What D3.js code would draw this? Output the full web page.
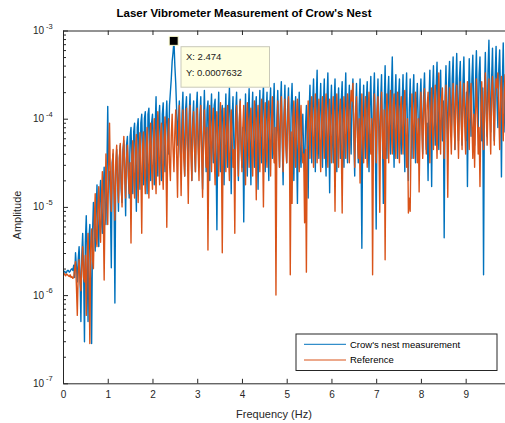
<!DOCTYPE html>
<html>
<head>
<meta charset="utf-8">
<script src="https://cdn.jsdelivr.net/npm/d3@7"></script>
<style>
  html, body { margin: 0; padding: 0; background: #fff; }
  svg { display: block; font-family: "Liberation Sans", Arial, sans-serif; }
</style>
</head>
<body>
<div id="chart"></div>
<script>
// FFT bin width of the spectrum (Hz)
const binWidth = 0.02;

const measLog10 = [
  -5.75,-5.74,-5.73,-5.75,-5.74,-5.72,-5.72,-5.74,-5.73,-5.71,-5.70,-5.72,-5.66,-5.80,-5.52,-5.68,-5.85,-5.60,-5.45,-5.75,-6.30,-5.55,-5.30,-5.70,-6.53,-5.40,-5.10,-5.60,-6.30,-5.35,-5.20,-5.80,-6.55,-5.30,-4.95,-5.25,-5.50,-5.05,-4.75,-5.30,-5.45,-4.90,-4.70,-5.15,-5.30,-4.80,-4.55,-5.00,-5.20,-4.65,
  -3.86,-4.70,-4.60,-5.00,-5.69,-4.50,-4.40,-4.85,-6.09,-4.60,-4.35,-4.70,-5.05,-4.45,-4.30,-4.80,-4.95,-4.35,-4.25,-4.60,-5.10,-4.30,-4.20,-4.65,-4.90,-4.20,-4.10,-4.50,-4.85,-4.15,-4.05,-4.55,-5.05,-4.10,-4.00,-4.45,-4.80,-4.05,-3.95,-4.40,-4.75,-4.00,-3.92,-4.50,-4.85,-3.95,-3.88,-4.35,-4.70,-4.05,
  -3.95,-4.30,-4.75,-4.10,-3.75,-4.40,-4.65,-4.00,-3.85,-4.45,-4.70,-3.95,-3.82,-4.35,-4.60,-4.05,-3.80,-4.20,-4.40,-3.85,-3.70,-3.55,-3.35,-3.25,-3.117,-3.40,-3.60,-3.90,-4.30,-4.00,-3.80,-4.35,-4.55,-3.95,-3.70,-4.25,-4.65,-3.90,-3.75,-4.30,-4.50,-3.95,-3.72,-4.20,-4.70,-4.00,-3.80,-4.35,-4.60,-3.90,
  -3.70,-4.20,-4.55,-3.95,-3.75,-4.30,-4.80,-4.05,-3.68,-4.15,-4.60,-3.90,-3.80,-4.35,-4.70,-4.00,-3.72,-4.25,-4.50,-3.85,-3.78,-4.40,-5.26,-4.10,-3.70,-4.30,-4.60,-3.95,-3.85,-4.20,-4.75,-4.05,-3.72,-4.35,-4.55,-3.90,-3.65,-4.15,-4.85,-4.00,-3.75,-4.30,-4.60,-3.92,-3.70,-4.25,-4.70,-4.05,-3.78,-4.35,
  -4.55,-4.10,-5.17,-4.20,-3.72,-4.30,-4.65,-3.95,-3.66,-4.25,-4.75,-4.00,-3.70,-4.35,-4.55,-3.90,-3.75,-4.20,-4.80,-4.05,-3.68,-4.30,-4.50,-3.85,-3.62,-4.15,-4.60,-3.95,-3.70,-4.25,-4.70,-3.88,-3.65,-4.20,-4.45,-3.92,-3.60,-4.30,-4.65,-4.00,-3.68,-4.10,-4.55,-3.85,-3.58,-4.25,-4.75,-3.95,-3.62,-4.20,
  -4.50,-3.90,-3.65,-4.25,-4.60,-3.85,-3.60,-4.15,-4.70,-4.00,-3.75,-4.30,-4.96,-4.05,-3.70,-4.35,-4.55,-4.15,-3.95,-4.40,-4.60,-4.10,-3.85,-4.30,-4.90,-3.95,-3.62,-4.20,-4.50,-3.85,-3.55,-4.10,-4.60,-3.80,-3.45,-4.20,-4.45,-3.90,-3.60,-4.15,-4.55,-3.85,-3.55,-4.25,-4.65,-3.80,-3.48,-4.10,-4.84,-3.95,
  -3.62,-4.15,-4.50,-3.85,-3.55,-4.20,-4.60,-3.90,-3.65,-4.10,-4.45,-3.80,-3.58,-4.25,-4.55,-3.85,-3.48,-4.15,-4.50,-3.90,-3.62,-4.05,-4.40,-3.80,-3.55,-4.20,-4.65,-3.95,-3.60,-4.10,-4.50,-3.85,-3.55,-4.30,-5.47,-4.00,-3.62,-4.15,-4.45,-3.80,-3.58,-4.20,-4.60,-3.85,-3.52,-4.05,-4.50,-3.80,-3.48,-4.15,
  -5.25,-3.90,-3.55,-4.10,-4.45,-3.80,-3.50,-4.20,-4.96,-3.85,-3.40,-4.05,-4.45,-3.75,-3.52,-4.15,-4.40,-3.70,-3.30,-4.00,-4.55,-3.80,-3.50,-4.10,-4.45,-3.75,-3.55,-4.20,-4.40,-3.85,-3.50,-4.05,-4.60,-3.80,-3.48,-4.15,-4.70,-3.90,-3.55,-4.00,-4.45,-3.75,-3.50,-4.10,-4.50,-3.85,-3.60,-4.05,-4.40,-3.80,
  -3.55,-4.00,-4.40,-3.75,-3.48,-3.95,-4.35,-4.05,-4.70,-3.80,-3.45,-4.00,-4.77,-3.70,-3.40,-3.95,-4.30,-3.65,-3.36,-3.90,-4.35,-3.70,-3.45,-4.00,-4.25,-3.80,-5.35,-3.75,-3.40,-3.95,-4.30,-3.60,-3.35,-3.85,-4.20,-3.55,-3.30,-3.90,-4.35,-3.65,-3.26,-3.80,-4.25,-3.55,-3.35,-3.95,-4.30,-3.60,-3.30,-3.85,
  -4.25,-3.70,-4.77,-3.85,-3.32,-3.75,-4.20,-3.55,-3.28,-3.90,-4.30,-3.60,-3.23,-3.80,-4.15,-3.50,-3.30,-3.85,-4.25,-3.65,-5.77,-3.70,-3.25,-3.90,-4.20,-3.45,-3.11,-3.75,-4.15,-3.55,-3.20,-3.85,-4.25,-3.50,-3.18,-3.80,-4.10,-3.45,-3.22,-3.75,-4.66,-3.60,-3.14,-3.85,-4.15,-3.50,-3.20,-3.80,-4.10,-3.55,
  -3.25
];

// log10 amplitude per bin - reference (one row = 1 Hz)
const refLog10 = [
  -5.76,-5.75,-5.77,-5.78,-5.76,-5.77,-5.78,-5.79,-5.77,-5.80,-5.79,-5.81,-5.80,-5.70,-5.62,-5.90,-6.23,-5.75,-5.60,-5.85,-5.95,-5.65,-5.45,-5.80,-5.85,-5.55,-6.23,-5.60,-5.30,-5.75,-6.55,-5.45,-5.25,-5.60,-5.70,-5.15,-4.85,-5.35,-5.45,-5.00,-4.77,-5.20,-5.40,-4.90,-4.60,-5.10,-5.83,-4.95,-4.40,-4.85,
  -5.20,-4.60,-4.05,-4.70,-5.05,-4.55,-4.35,-4.80,-5.15,-4.50,-4.30,-4.75,-4.95,-4.45,-4.28,-4.70,-5.00,-4.40,-4.20,-4.65,-4.90,-4.45,-4.30,-4.60,-4.85,-4.50,-5.41,-4.40,-4.25,-4.65,-4.90,-4.35,-4.18,-4.60,-4.95,-4.40,-4.16,-4.55,-5.30,-4.30,-4.15,-4.60,-4.85,-4.35,-4.10,-4.50,-4.90,-4.30,-4.05,-4.55,
  -4.80,-4.30,-4.00,-4.50,-4.85,-4.25,-3.92,-4.45,-4.75,-4.20,-4.05,-4.55,-4.80,-4.25,-3.98,-4.40,-5.23,-4.30,-4.00,-4.50,-4.70,-4.20,-3.95,-4.35,-4.60,-4.15,-3.90,-4.40,-4.89,-4.20,-3.85,-4.30,-4.87,-4.25,-3.90,-4.45,-4.65,-4.15,-3.88,-4.35,-4.96,-4.20,-3.85,-4.40,-4.70,-4.10,-3.92,-4.30,-4.60,-4.15,
  -3.88,-4.35,-4.70,-4.15,-3.85,-4.40,-4.89,-4.20,-3.90,-4.30,-4.55,-4.10,-5.49,-4.35,-3.85,-4.25,-4.60,-4.05,-3.88,-4.40,-4.75,-4.15,-3.92,-4.30,-4.65,-4.10,-3.82,-4.35,-5.52,-4.20,-3.88,-4.30,-4.60,-4.10,-3.85,-4.40,-4.70,-4.15,-3.90,-4.25,-4.55,-4.35,-5.30,-4.10,-3.85,-4.30,-4.65,-4.05,-3.80,-4.25,
  -4.60,-4.10,-3.85,-4.30,-4.75,-4.05,-3.82,-4.25,-4.55,-4.00,-3.88,-4.35,-4.65,-4.10,-3.80,-4.20,-4.92,-4.05,-3.85,-4.30,-4.60,-4.00,-3.78,-4.25,-5.00,-4.10,-3.82,-4.35,-4.55,-4.00,-3.80,-4.20,-4.65,-4.05,-3.75,-4.30,-4.50,-4.10,-6.00,-4.20,-3.80,-4.25,-4.55,-4.00,-3.75,-4.15,-4.60,-4.05,-3.78,-4.30,
  -4.50,-4.05,-3.75,-4.20,-5.77,-4.15,-4.96,-4.00,-3.80,-4.25,-4.55,-3.95,-3.78,-4.20,-4.60,-4.05,-3.85,-4.30,-4.50,-4.40,-5.18,-4.35,-5.74,-4.20,-3.80,-4.10,-4.45,-3.95,-3.75,-4.20,-4.55,-4.00,-3.72,-4.15,-4.50,-3.95,-3.78,-4.25,-4.60,-4.00,-3.75,-4.20,-4.45,-3.90,-3.72,-4.15,-4.55,-4.00,-3.78,-4.20,
  -4.50,-4.00,-3.75,-4.20,-5.05,-4.10,-3.72,-4.25,-4.55,-3.95,-3.78,-4.30,-5.07,-4.05,-3.75,-4.20,-4.45,-3.95,-3.72,-4.15,-4.50,-3.90,-3.68,-3.80,-3.60,-4.10,-4.55,-3.95,-3.75,-4.20,-4.45,-4.00,-4.73,-4.10,-3.72,-4.25,-4.50,-3.95,-3.75,-4.15,-4.55,-3.90,-3.70,-4.20,-4.40,-4.00,-5.77,-4.15,-3.72,-4.05,
  -4.50,-3.95,-3.75,-4.15,-5.06,-4.00,-3.70,-4.20,-4.45,-3.90,-5.60,-4.10,-3.72,-4.05,-4.50,-3.90,-3.68,-4.15,-4.40,-3.85,-3.72,-4.10,-4.45,-3.95,-3.70,-4.20,-4.50,-3.90,-3.75,-4.10,-4.40,-3.85,-3.68,-4.15,-4.55,-4.00,-5.07,-4.90,-5.05,-4.20,-3.72,-4.05,-4.45,-3.90,-3.70,-4.15,-4.50,-4.00,-4.83,-4.10,
  -3.70,-4.05,-4.45,-3.90,-3.66,-4.10,-4.40,-3.85,-3.70,-4.00,-4.50,-3.95,-3.65,-4.15,-4.35,-3.85,-3.62,-4.05,-4.45,-3.90,-3.48,-4.00,-4.40,-3.80,-3.65,-4.10,-4.45,-3.90,-3.62,-4.05,-4.89,-4.00,-3.65,-4.10,-4.40,-3.85,-3.60,-4.00,-4.35,-3.80,-3.62,-4.05,-4.45,-3.90,-3.58,-4.00,-4.35,-3.85,-3.60,-4.05,
  -4.40,-3.85,-3.58,-4.00,-4.35,-3.80,-3.60,-4.05,-4.45,-3.95,-4.55,-4.00,-3.55,-3.90,-4.40,-4.10,-4.77,-3.95,-3.58,-4.00,-4.35,-3.75,-3.48,-3.95,-4.30,-3.80,-3.55,-4.00,-4.40,-3.70,-3.52,-3.90,-4.30,-3.75,-3.55,-3.65,-3.48,-3.90,-4.35,-3.70,-3.52,-3.95,-4.25,-3.75,-3.50,-3.90,-4.30,-3.70,-3.52,-3.85,
  -4.20
];

const xTickValues = [0, 1, 2, 3, 4, 5, 6, 7, 8, 9, 10];
const yDecades = [-7, -6, -5, -4, -3];
const seriesNames = ["Crow's nest measurement", "Reference"];
const seriesColors = ["#0072BD", "#D95319"];
const datatip = { x: 2.474, y: 0.0007632 };

const W = 505, H = 423;
const plotL = 63, plotR = 510.4, plotT = 30.5, plotB = 383.3;
const axisColor = "#262626";

const svg = d3.select("#chart").append("svg")
  .attr("width", W).attr("height", H);

const x = d3.scaleLinear().domain([0, 10]).range([plotL, plotR]);
const y = d3.scaleLog().domain([1e-7, 1e-3]).range([plotB, plotT]);

svg.append("clipPath").attr("id", "plotclip")
  .append("rect")
  .attr("x", plotL).attr("y", plotT)
  .attr("width", plotR - plotL).attr("height", plotB - plotT);

const toPoints = arr => arr.map((v, i) => ({ f: i * binWidth, a: Math.pow(10, v) }));
const series = [toPoints(measLog10), toPoints(refLog10)];

const line = d3.line().x(d => x(d.f)).y(d => y(d.a));

const plot = svg.append("g").attr("clip-path", "url(#plotclip)");
series.forEach((s, k) => {
  plot.append("path")
    .datum(s)
    .attr("fill", "none")
    .attr("stroke", seriesColors[k])
    .attr("stroke-width", 1.4)
    .attr("stroke-linejoin", "round")
    .attr("d", line);
});

// axes
const bottomAxis = svg.append("g")
  .attr("transform", `translate(0,${plotB})`)
  .call(d3.axisBottom(x).tickValues(xTickValues).tickSize(-4.5).tickSizeOuter(0).tickPadding(8));
bottomAxis.selectAll("text").attr("font-size", 10).attr("fill", axisColor)
  .attr("font-family", "Liberation Sans, Arial, sans-serif");

svg.append("g")
  .attr("transform", `translate(0,${plotT})`)
  .call(d3.axisTop(x).tickValues(xTickValues).tickSize(-4.5).tickSizeOuter(0).tickFormat(""));

const minorVals = [];
yDecades.slice(0, -1).forEach(e => {
  for (let m = 2; m <= 9; m++) minorVals.push(m * Math.pow(10, e));
});

svg.append("g")
  .attr("transform", `translate(${plotL},0)`)
  .call(d3.axisLeft(y).tickValues(yDecades.map(e => Math.pow(10, e))).tickSize(-5).tickSizeOuter(0).tickFormat(""));
svg.append("g")
  .attr("transform", `translate(${plotL},0)`)
  .call(d3.axisLeft(y).tickValues(minorVals).tickSize(-3).tickSizeOuter(0).tickFormat(""))
  .select(".domain").remove();

svg.selectAll(".domain, .tick line").attr("stroke", axisColor);

// y tick labels 10^k
yDecades.forEach(e => {
  svg.append("text")
    .attr("x", 44).attr("y", y(Math.pow(10, e)) + 3.5)
    .attr("text-anchor", "end")
    .attr("font-size", 10).attr("fill", axisColor)
    .text("10");
  svg.append("text")
    .attr("x", 46).attr("y", y(Math.pow(10, e)) - 2)
    .attr("font-size", 7.5).attr("fill", axisColor)
    .text(String(e));
});

// titles
svg.append("text")
  .attr("x", 244).attr("y", 17)
  .attr("text-anchor", "middle")
  .attr("font-size", 11.5).attr("font-weight", "bold").attr("fill", "#000")
  .text("Laser Vibrometer Measurement of Crow's Nest");

svg.append("text")
  .attr("x", 274).attr("y", 418)
  .attr("text-anchor", "middle")
  .attr("font-size", 11).attr("fill", axisColor)
  .text("Frequency (Hz)");

svg.append("text")
  .attr("transform", "translate(21,215) rotate(-90)")
  .attr("text-anchor", "middle")
  .attr("font-size", 11).attr("fill", axisColor)
  .text("Amplitude");

// legend
const lg = svg.append("g");
lg.append("rect")
  .attr("x", 296).attr("y", 334).attr("width", 201).attr("height", 36.5)
  .attr("fill", "#fff").attr("stroke", axisColor).attr("stroke-width", 1);
seriesNames.forEach((name, k) => {
  const yy = 344.3 + k * 15.7;
  lg.append("line")
    .attr("x1", 304).attr("x2", 346).attr("y1", yy).attr("y2", yy)
    .attr("stroke", seriesColors[k]).attr("stroke-width", 1);
  lg.append("text")
    .attr("x", 350).attr("y", yy + 3.3)
    .attr("font-size", 9.5).attr("fill", "#000")
    .text(name);
});

// datatip
const px = x(datatip.x), py = y(datatip.y);
const tip = svg.append("g");
tip.append("rect")
  .attr("x", 181).attr("y", 46.7).attr("width", 88.5).attr("height", 40.5)
  .attr("fill", "#ffffe1").attr("stroke", "#c9c9b9").attr("stroke-width", 1);
tip.append("text").attr("x", 186).attr("y", 59.5)
  .attr("font-size", 9.5).attr("fill", "#1a1a1a")
  .text("X: " + datatip.x);
tip.append("text").attr("x", 186).attr("y", 76)
  .attr("font-size", 9.5).attr("fill", "#1a1a1a")
  .text("Y: " + datatip.y);
tip.append("rect")
  .attr("x", px - 4.5).attr("y", py - 4.5).attr("width", 9).attr("height", 9)
  .attr("fill", "#000").attr("stroke", "#ffffd0").attr("stroke-width", 1);
</script>
</body>
</html>
